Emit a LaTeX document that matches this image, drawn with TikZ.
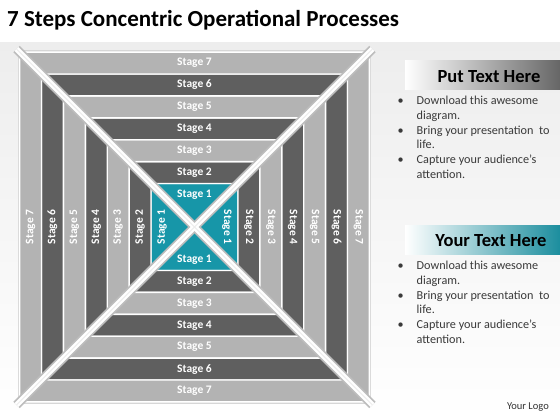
\documentclass[tikz,border=0pt]{standalone}
\usepackage{fontspec}
\setmainfont{Carlito}
\definecolor{lightb}{HTML}{B3B3B3}
\definecolor{darkb}{HTML}{5F5F5F}
\definecolor{tealc}{HTML}{1796A8}
\definecolor{xedge}{HTML}{BDBDBD}
\definecolor{framec}{HTML}{D6D6D6}
\definecolor{txtc}{HTML}{3A3A3A}
\definecolor{tealbar}{HTML}{1C8E9E}
\tikzset{
  band/.style={draw=white, line width=1.4pt, line join=miter},
  stagelbl/.style={text=white, font=\bfseries\fontsize{11.5}{13}\selectfont, inner sep=0pt},
  hdr/.style={font=\bfseries\fontsize{18.5}{20}\selectfont, text=black, anchor=base},
  bul/.style={anchor=base west, inner sep=0pt, text=txtc, font=\fontsize{12.2}{14.8}\selectfont}
}
\begin{document}
\begin{tikzpicture}[x=1pt,y=-1pt]
\useasboundingbox (0,0) rectangle (560,420);
\fill[white] (0,0) rectangle (560,420);
\shade[top color=black!7, bottom color=white] (0,43) rectangle (560,420);
% title
\node[anchor=base west, inner sep=0pt, font=\bfseries\fontsize{23}{28}\selectfont] (title) at (7,27) {7 Steps Concentric Operational Processes};
% concentric square
\def\cx{194.5}
\def\cy{227}
\def\rS{174.9}
\draw[framec, line width=1.5pt] ({\cx-\rS-1.2},{\cy-\rS-1.2}) rectangle ({\cx+\rS+1.2},{\cy+\rS+1.2});
\foreach \k in {1,...,7} {
  \pgfmathsetmacro\ro{43.5+21.9*(\k-1)}
  \pgfmathsetmacro\ri{ifthenelse(\k==1,0,43.5+21.9*(\k-2))}
  \pgfmathsetmacro\rm{ifthenelse(\k==1,32.5,(\ro+\ri)/2)}
  \ifnum\k=1 \def\bc{tealc}\else\ifodd\k \def\bc{lightb}\else\def\bc{darkb}\fi\fi
  \filldraw[band, fill=\bc] ({\cx-\ro},{\cy-\ro}) -- ({\cx+\ro},{\cy-\ro}) -- ({\cx+\ri},{\cy-\ri}) -- ({\cx-\ri},{\cy-\ri}) -- cycle;
  \filldraw[band, fill=\bc] ({\cx-\ro},{\cy+\ro}) -- ({\cx+\ro},{\cy+\ro}) -- ({\cx+\ri},{\cy+\ri}) -- ({\cx-\ri},{\cy+\ri}) -- cycle;
  \filldraw[band, fill=\bc] ({\cx-\ro},{\cy-\ro}) -- ({\cx-\ro},{\cy+\ro}) -- ({\cx-\ri},{\cy+\ri}) -- ({\cx-\ri},{\cy-\ri}) -- cycle;
  \filldraw[band, fill=\bc] ({\cx+\ro},{\cy-\ro}) -- ({\cx+\ro},{\cy+\ro}) -- ({\cx+\ri},{\cy+\ri}) -- ({\cx+\ri},{\cy-\ri}) -- cycle;
  \node[stagelbl] (t\k) at (\cx,{\cy-\rm}) {Stage \k};
  \node[stagelbl] (b\k) at (\cx,{\cy+\rm}) {Stage \k};
  \node[stagelbl, rotate=90] (l\k) at ({\cx-\rm},\cy) {Stage \k};
  \node[stagelbl, rotate=-90] (r\k) at ({\cx+\rm},\cy) {Stage \k};
}
% the X
\coordinate (xa) at ({\cx-\rS-3},{\cy-\rS-3});
\coordinate (xb) at ({\cx+\rS+3},{\cy+\rS+3});
\coordinate (xc) at ({\cx+\rS+3},{\cy-\rS-3});
\coordinate (xd) at ({\cx-\rS-3},{\cy+\rS+3});
\draw[xedge, line width=9pt] (xa) -- (xb);
\draw[xedge, line width=9pt] (xc) -- (xd);
\draw[white, line width=5.5pt] (xa) -- (xb);
\draw[white, line width=5.5pt] (xc) -- (xd);
\draw[black!8, line width=0.8pt] (xa) -- (xb);
\draw[black!8, line width=0.8pt] (xc) -- (xd);
% right panels
\shade[left color=white, right color=black!60] (405,61) rectangle (560,90);
\node[hdr] (h1) at (489,82) {Put Text Here};
\node[bul] (p1) at (397.5,104.5) {\begin{tabular}[t]{@{}p{19pt}@{}l@{}}
\textbullet & Download this awesome\\
 & diagram.\\
\textbullet & Bring your presentation\ \ to\\
 & life.\\
\textbullet & Capture your audience's\\
 & attention.
\end{tabular}};
\shade[left color=white, right color=tealbar] (405,225) rectangle (560,254);
\node[hdr] (h2) at (491,246) {Your Text Here};
\node[bul] (p2) at (397.5,269.5) {\begin{tabular}[t]{@{}p{19pt}@{}l@{}}
\textbullet & Download this awesome\\
 & diagram.\\
\textbullet & Bring your presentation\ \ to\\
 & life.\\
\textbullet & Capture your audience's\\
 & attention.
\end{tabular}};
\node[anchor=base east, inner sep=0pt, text=black!80, font=\fontsize{10.5}{12}\selectfont] (logo) at (549,409.5) {Your Logo};
\end{tikzpicture}
\end{document}
